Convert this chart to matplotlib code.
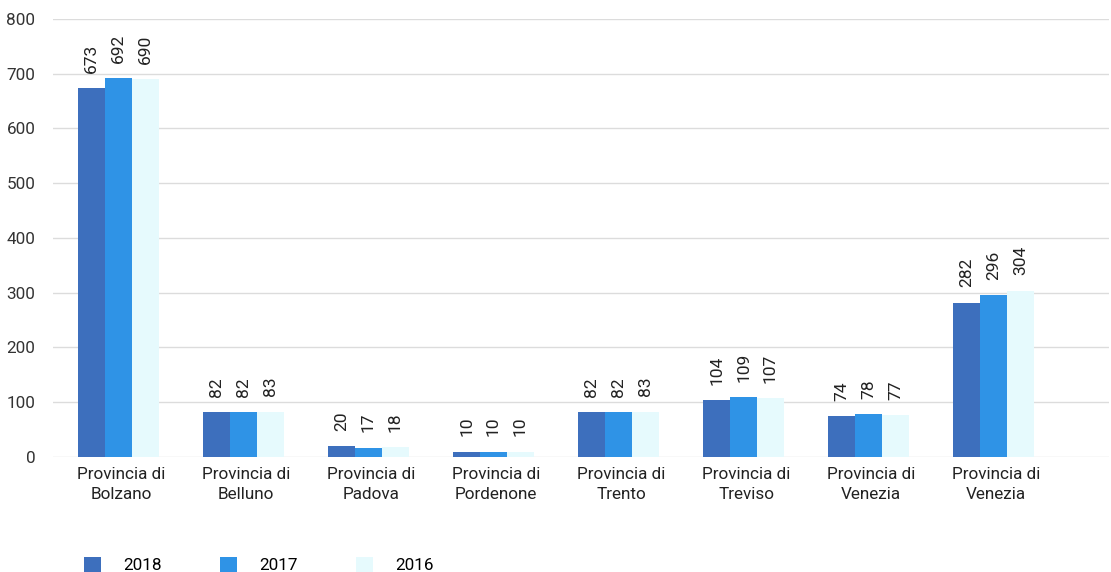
import matplotlib.pyplot as plt
import numpy as np

plt.rcParams['font.family'] = ['Roboto', 'DejaVu Sans']

# data
categories = ['Provincia di\nBolzano', 'Provincia di\nBelluno', 'Provincia di\nPadova',
              'Provincia di\nPordenone', 'Provincia di\nTrento', 'Provincia di\nTreviso',
              'Provincia di\nVenezia', 'Provincia di\nVenezia']
years = ['2018', '2017', '2016']
v2018 = [673, 82, 20, 10, 82, 104, 74, 282]
v2017 = [692, 82, 17, 10, 82, 109, 78, 296]
v2016 = [690, 83, 18, 10, 83, 107, 77, 304]
colors = ['#3d6fbd', '#2f93e6', '#e6fafd']

fig = plt.figure(figsize=(11.11, 5.72), dpi=100)
ax = fig.add_axes([0.048, 0.201, 0.950, 0.766])

x = np.arange(len(categories))
w = 0.215
series = [v2018, v2017, v2016]
for i, (vals, c, yr) in enumerate(zip(series, colors, years)):
    pos = x + (i - 1) * w - 0.02
    ax.bar(pos, vals, width=w, color=c, label=yr, zorder=2)
    for p, v in zip(pos, vals):
        ax.text(p, v + 28, str(v), rotation=90, ha='center', va='bottom',
                fontsize=12.5, color='#222222')

ax.set_ylim(0, 800)
ax.set_xlim(-0.54, 7.9)
ax.set_yticks(range(0, 801, 100))
ax.set_xticks(x)
ax.set_xticklabels(categories, fontsize=12.3, color='#222222', linespacing=1.45)
ax.tick_params(axis='y', labelsize=12.3, colors='#333333', length=0, pad=13)
ax.tick_params(axis='x', length=0, pad=7)
ax.grid(axis='y', color='#dcdcdc', linewidth=1, zorder=0)
for s in ax.spines.values():
    s.set_visible(False)

ax.legend(loc='center left', bbox_to_anchor=(0.062, 0.012), bbox_transform=fig.transFigure,
          ncol=3, frameon=False, fontsize=12.3, handlelength=1.0, handleheight=1.0,
          columnspacing=3.4, handletextpad=1.3)

plt.savefig('out.png', dpi=100)
